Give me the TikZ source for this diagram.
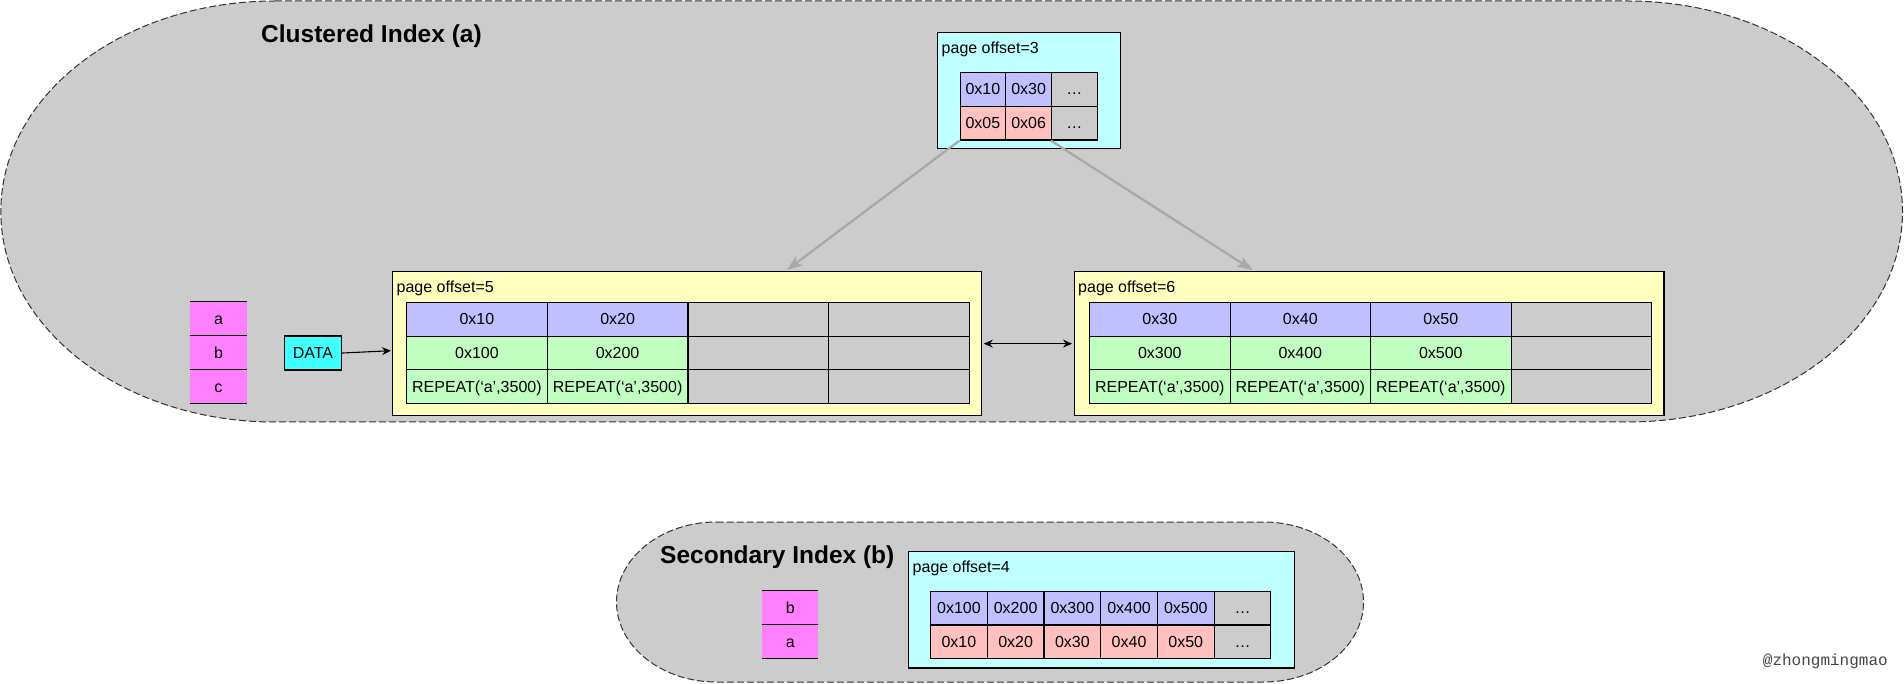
\documentclass[tikz,border=0pt]{standalone}
\usepackage{fontspec}
\setmainfont{Liberation Sans}
\newfontfamily\wmfont{Liberation Mono}
\usetikzlibrary{arrows.meta}
\definecolor{bggray}{RGB}{204,204,204}
\definecolor{cyanbox}{RGB}{192,255,255}
\definecolor{yellowbox}{RGB}{255,255,192}
\definecolor{bluecell}{RGB}{192,192,255}
\definecolor{greencell}{RGB}{192,255,192}
\definecolor{pinkcell}{RGB}{255,192,192}
\definecolor{magcell}{RGB}{255,128,255}
\definecolor{datacyan}{RGB}{64,255,255}
\definecolor{arrowgray}{RGB}{168,168,168}
\definecolor{wmgray}{RGB}{70,70,70}
\newcommand\mkcell[7]{\node[cell, fill=#6, minimum width=#4pt, minimum height=#5pt] (#1) at (#2,#3) {#7};}
\newcommand\mkkey[5]{\node[keycell, minimum width=#4pt] (#1) at (#2,#3) {#5};}
\begin{document}
\begin{tikzpicture}[x=1pt,y=-1pt,
  font=\fontsize{16}{19}\selectfont,
  stad/.style={fill=bggray, draw=black!80, line width=1pt, dash pattern=on 7pt off 3pt},
  pagebox/.style={draw=black, line width=1.3pt, anchor=north west, inner sep=0pt},
  cell/.style={draw=black, line width=1.1pt, anchor=north west, inner sep=0pt, text=black, text height=11.6pt, text depth=0pt},
  keycell/.style={fill=magcell, anchor=north west, inner sep=0pt, minimum height=33.9pt, text height=11.6pt, text depth=0pt},
  lbl/.style={anchor=base west, inner sep=0pt},
  title/.style={anchor=base west, inner sep=0pt, font=\bfseries\fontsize{24.5}{29}\selectfont},
  grayarrow/.style={draw=arrowgray, line width=2.2pt, -{Stealth[length=15pt,width=11pt,inset=3pt]}},
  blackarrow/.style={draw=black, line width=1.1pt, -{Stealth[length=9pt,width=8pt]}},
  dblarrow/.style={draw=black, line width=1.1pt, {Stealth[length=9pt,width=8pt]}-{Stealth[length=9pt,width=8pt]}}
]
\fill[white] (0,0) rectangle (1904,684);
\useasboundingbox (0,0) rectangle (1904,684);

% ---------- Clustered index (a) ----------
\path[stad] (275,1) -- (1627.5,1)
  .. controls (1779.4,1) and (1902.5,95.2) .. (1902.5,211.5)
  .. controls (1902.5,327.8) and (1779.4,422) .. (1627.5,422)
  -- (275,422)
  .. controls (123.1,422) and (0.8,327.8) .. (0.8,211.5)
  .. controls (0.8,95.2) and (123.1,1) .. (275,1) -- cycle;
\node[title] (titleA) at (261,42.7) {Clustered Index (a)};

% root page 3
\node[pagebox, fill=cyanbox, minimum width=183pt, minimum height=116pt] (p3) at (937,32) {};
\node[lbl] (p3lbl) at (941.5,53.3) {page offset=3};
\mkcell{p3a1}{959.5}{71.7}{45.7}{33.9}{bluecell}{0x10}
\mkcell{p3a2}{1005.2}{71.7}{45.7}{33.9}{bluecell}{0x30}
\mkcell{p3a3}{1050.9}{71.7}{45.7}{33.9}{bggray}{…}
\mkcell{p3b1}{959.5}{105.6}{45.7}{33.9}{pinkcell}{0x05}
\mkcell{p3b2}{1005.2}{105.6}{45.7}{33.9}{pinkcell}{0x06}
\mkcell{p3b3}{1050.9}{105.6}{45.7}{33.9}{bggray}{…}

% leaf page 5
\node[pagebox, fill=yellowbox, minimum width=589pt, minimum height=144pt] (p5) at (392,271) {};
\node[lbl] (p5lbl) at (396.5,292.3) {page offset=5};
\mkcell{p5a1}{406}{301.7}{140.7}{33.85}{bluecell}{0x10}
\mkcell{p5a2}{546.7}{301.7}{140.7}{33.85}{bluecell}{0x20}
\mkcell{p5a3}{687.4}{301.7}{140.7}{33.85}{bggray}{}
\mkcell{p5a4}{828.1}{301.7}{140.7}{33.85}{bggray}{}
\mkcell{p5b1}{406}{335.55}{140.7}{33.85}{greencell}{0x100}
\mkcell{p5b2}{546.7}{335.55}{140.7}{33.85}{greencell}{0x200}
\mkcell{p5b3}{687.4}{335.55}{140.7}{33.85}{bggray}{}
\mkcell{p5b4}{828.1}{335.55}{140.7}{33.85}{bggray}{}
\mkcell{p5c1}{406}{369.4}{140.7}{33.85}{greencell}{REPEAT(‘a’,3500)}
\mkcell{p5c2}{546.7}{369.4}{140.7}{33.85}{greencell}{REPEAT(‘a’,3500)}
\mkcell{p5c3}{687.4}{369.4}{140.7}{33.85}{bggray}{}
\mkcell{p5c4}{828.1}{369.4}{140.7}{33.85}{bggray}{}

% leaf page 6
\node[pagebox, fill=yellowbox, minimum width=589.7pt, minimum height=144pt] (p6) at (1073.5,271) {};
\node[lbl] (p6lbl) at (1078,292.3) {page offset=6};
\mkcell{p6a1}{1089}{301.7}{140.5}{33.85}{bluecell}{0x30}
\mkcell{p6a2}{1229.5}{301.7}{140.5}{33.85}{bluecell}{0x40}
\mkcell{p6a3}{1370}{301.7}{140.5}{33.85}{bluecell}{0x50}
\mkcell{p6a4}{1510.5}{301.7}{140.5}{33.85}{bggray}{}
\mkcell{p6b1}{1089}{335.55}{140.5}{33.85}{greencell}{0x300}
\mkcell{p6b2}{1229.5}{335.55}{140.5}{33.85}{greencell}{0x400}
\mkcell{p6b3}{1370}{335.55}{140.5}{33.85}{greencell}{0x500}
\mkcell{p6b4}{1510.5}{335.55}{140.5}{33.85}{bggray}{}
\mkcell{p6c1}{1089}{369.4}{140.5}{33.85}{greencell}{REPEAT(‘a’,3500)}
\mkcell{p6c2}{1229.5}{369.4}{140.5}{33.85}{greencell}{REPEAT(‘a’,3500)}
\mkcell{p6c3}{1370}{369.4}{140.5}{33.85}{greencell}{REPEAT(‘a’,3500)}
\mkcell{p6c4}{1510.5}{369.4}{140.5}{33.85}{bggray}{}

% key columns a b c
\mkkey{ka}{190}{301.7}{56.5}{a}
\mkkey{kb}{190}{335.6}{56.5}{b}
\mkkey{kc}{190}{369.5}{56.5}{c}
\foreach \k in {ka,kb,kc} {\draw[line width=1.1pt] (\k.north west) -- (\k.north east);}
\draw[line width=1.1pt] (kc.south west) -- (kc.south east);

% DATA box
\node[cell, fill=datacyan, minimum width=56.6pt, minimum height=34pt, line width=1.3pt] (data) at (284,335.4) {DATA};

% connectors
\coordinate (t5) at (787,270);
\coordinate (t6) at (1252.5,270);
\coordinate (dt) at (391,350.7);
\draw[grayarrow] (p3b1.south west) -- (t5);
\draw[grayarrow] (p3b3.south west) -- (t6);
\draw[blackarrow] (data.east) -- (dt);
\draw[dblarrow, shorten <=1.5pt, shorten >=1.5pt] (p5.east) -- (p6.west);

% ---------- Secondary index (b) ----------
\path[stad] (716.5,522) -- (1263.5,522)
  .. controls (1318.7,522) and (1363.5,557.8) .. (1363.5,602)
  .. controls (1363.5,646.2) and (1318.7,682) .. (1263.5,682)
  -- (716.5,682)
  .. controls (661.3,682) and (616.5,646.2) .. (616.5,602)
  .. controls (616.5,557.8) and (661.3,522) .. (716.5,522) -- cycle;
\node[title] (titleB) at (660,563.5) {Secondary Index (b)};

\node[pagebox, fill=cyanbox, minimum width=385.9pt, minimum height=116.6pt] (p4) at (907.7,550.7) {};
\node[lbl] (p4lbl) at (912.5,572) {page offset=4};
\mkcell{p4a1}{930}{590.5}{56.72}{33.9}{bluecell}{0x100}
\mkcell{p4a2}{986.72}{590.5}{56.72}{33.9}{bluecell}{0x200}
\mkcell{p4a3}{1043.44}{590.5}{56.72}{33.9}{bluecell}{0x300}
\mkcell{p4a4}{1100.16}{590.5}{56.72}{33.9}{bluecell}{0x400}
\mkcell{p4a5}{1156.88}{590.5}{56.72}{33.9}{bluecell}{0x500}
\mkcell{p4a6}{1213.6}{590.5}{56.72}{33.9}{bggray}{…}
\mkcell{p4b1}{930}{624.4}{56.72}{33.9}{pinkcell}{0x10}
\mkcell{p4b2}{986.72}{624.4}{56.72}{33.9}{pinkcell}{0x20}
\mkcell{p4b3}{1043.44}{624.4}{56.72}{33.9}{pinkcell}{0x30}
\mkcell{p4b4}{1100.16}{624.4}{56.72}{33.9}{pinkcell}{0x40}
\mkcell{p4b5}{1156.88}{624.4}{56.72}{33.9}{pinkcell}{0x50}
\mkcell{p4b6}{1213.6}{624.4}{56.72}{33.9}{bggray}{…}

\mkkey{kb2}{762}{590.5}{56}{b}
\mkkey{ka2}{762}{624.4}{56}{a}
\foreach \k in {kb2,ka2} {\draw[line width=1.1pt] (\k.north west) -- (\k.north east);}
\draw[line width=1.1pt] (ka2.south west) -- (ka2.south east);

% watermark
\node[lbl, font=\wmfont\fontsize{16}{19}\selectfont, text=wmgray] (wm) at (1762.7,665.7) {@zhongmingmao};
\end{tikzpicture}
\end{document}
